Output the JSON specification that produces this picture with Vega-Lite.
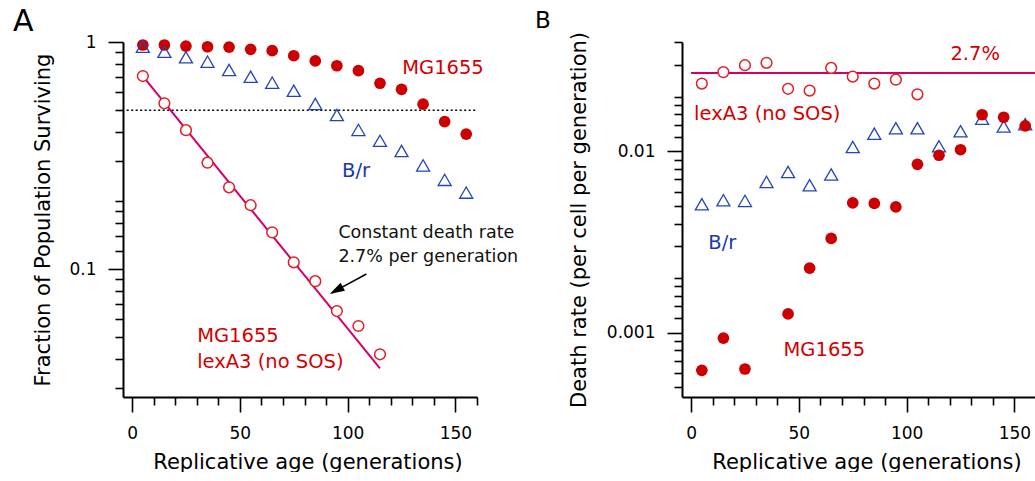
{
  "$schema": "https://vega.github.io/schema/vega-lite/v6.json",
  "padding": {"left": 13, "top": 7, "right": 0, "bottom": 0},
  "bounds": "flush",
  "spacing": 205,
  "config": {
    "view": {"stroke": null},
    "font": "DejaVu Sans",
    "axis": {"domainColor": "#000", "domainWidth": 2, "tickColor": "#000", "tickWidth": 1.6, "labelColor": "#000", "titleColor": "#000", "labelFontSize": 17, "titleFontSize": 21, "titleFontWeight": "normal", "grid": false, "labelFlush": false, "labelOverlap": false, "labelBound": false},
    "title": {"fontWeight": "normal", "color": "#000", "anchor": "start", "frame": "group"}
  },
  "datasets": {
    "ptsA": [
      {"gen": 5, "strain": "MG1655", "val": 0.970}, {"gen": 15, "strain": "MG1655", "val": 0.970}, {"gen": 25, "strain": "MG1655", "val": 0.960}, {"gen": 35, "strain": "MG1655", "val": 0.953},
      {"gen": 45, "strain": "MG1655", "val": 0.950}, {"gen": 55, "strain": "MG1655", "val": 0.928}, {"gen": 65, "strain": "MG1655", "val": 0.916}, {"gen": 75, "strain": "MG1655", "val": 0.870},
      {"gen": 85, "strain": "MG1655", "val": 0.825}, {"gen": 95, "strain": "MG1655", "val": 0.786}, {"gen": 105, "strain": "MG1655", "val": 0.748}, {"gen": 115, "strain": "MG1655", "val": 0.658},
      {"gen": 125, "strain": "MG1655", "val": 0.619}, {"gen": 135, "strain": "MG1655", "val": 0.532}, {"gen": 145, "strain": "MG1655", "val": 0.446}, {"gen": 155, "strain": "MG1655", "val": 0.393},
      {"gen": 5, "strain": "B/r", "val": 0.953}, {"gen": 15, "strain": "B/r", "val": 0.906}, {"gen": 25, "strain": "B/r", "val": 0.856}, {"gen": 35, "strain": "B/r", "val": 0.819},
      {"gen": 45, "strain": "B/r", "val": 0.753}, {"gen": 55, "strain": "B/r", "val": 0.703}, {"gen": 65, "strain": "B/r", "val": 0.662}, {"gen": 75, "strain": "B/r", "val": 0.610},
      {"gen": 85, "strain": "B/r", "val": 0.533}, {"gen": 95, "strain": "B/r", "val": 0.477}, {"gen": 105, "strain": "B/r", "val": 0.410}, {"gen": 115, "strain": "B/r", "val": 0.367},
      {"gen": 125, "strain": "B/r", "val": 0.331}, {"gen": 135, "strain": "B/r", "val": 0.286}, {"gen": 145, "strain": "B/r", "val": 0.247}, {"gen": 155, "strain": "B/r", "val": 0.217},
      {"gen": 5, "strain": "lexA3", "val": 0.708}, {"gen": 15, "strain": "lexA3", "val": 0.537}, {"gen": 25, "strain": "lexA3", "val": 0.409}, {"gen": 35, "strain": "lexA3", "val": 0.294},
      {"gen": 45, "strain": "lexA3", "val": 0.229}, {"gen": 55, "strain": "lexA3", "val": 0.191}, {"gen": 65, "strain": "lexA3", "val": 0.145}, {"gen": 75, "strain": "lexA3", "val": 0.107},
      {"gen": 85, "strain": "lexA3", "val": 0.0884}, {"gen": 95, "strain": "lexA3", "val": 0.0653}, {"gen": 105, "strain": "lexA3", "val": 0.0561}, {"gen": 115, "strain": "lexA3", "val": 0.0421}
    ],
    "ptsB": [
      {"gen": 5, "strain": "lexA3", "val": 0.0236}, {"gen": 15, "strain": "lexA3", "val": 0.0273}, {"gen": 25, "strain": "lexA3", "val": 0.0298}, {"gen": 35, "strain": "lexA3", "val": 0.0307},
      {"gen": 45, "strain": "lexA3", "val": 0.0221}, {"gen": 55, "strain": "lexA3", "val": 0.0216}, {"gen": 65, "strain": "lexA3", "val": 0.0288}, {"gen": 75, "strain": "lexA3", "val": 0.0258},
      {"gen": 85, "strain": "lexA3", "val": 0.0236}, {"gen": 95, "strain": "lexA3", "val": 0.0248}, {"gen": 105, "strain": "lexA3", "val": 0.0206},
      {"gen": 5, "strain": "B/r", "val": 0.00511}, {"gen": 15, "strain": "B/r", "val": 0.00538}, {"gen": 25, "strain": "B/r", "val": 0.00533}, {"gen": 35, "strain": "B/r", "val": 0.00678},
      {"gen": 45, "strain": "B/r", "val": 0.00769}, {"gen": 55, "strain": "B/r", "val": 0.00650}, {"gen": 65, "strain": "B/r", "val": 0.00745}, {"gen": 75, "strain": "B/r", "val": 0.01056},
      {"gen": 85, "strain": "B/r", "val": 0.0125}, {"gen": 95, "strain": "B/r", "val": 0.0134}, {"gen": 105, "strain": "B/r", "val": 0.0134}, {"gen": 115, "strain": "B/r", "val": 0.01065},
      {"gen": 125, "strain": "B/r", "val": 0.0129}, {"gen": 135, "strain": "B/r", "val": 0.0151}, {"gen": 145, "strain": "B/r", "val": 0.0137}, {"gen": 155, "strain": "B/r", "val": 0.0141},
      {"gen": 5, "strain": "MG1655", "val": 0.000621}, {"gen": 15, "strain": "MG1655", "val": 0.000935}, {"gen": 25, "strain": "MG1655", "val": 0.000632},
      {"gen": 45, "strain": "MG1655", "val": 0.00127}, {"gen": 55, "strain": "MG1655", "val": 0.00227}, {"gen": 65, "strain": "MG1655", "val": 0.00331}, {"gen": 75, "strain": "MG1655", "val": 0.0052},
      {"gen": 85, "strain": "MG1655", "val": 0.00516}, {"gen": 95, "strain": "MG1655", "val": 0.00494}, {"gen": 105, "strain": "MG1655", "val": 0.00848}, {"gen": 115, "strain": "MG1655", "val": 0.00951},
      {"gen": 125, "strain": "MG1655", "val": 0.0102}, {"gen": 135, "strain": "MG1655", "val": 0.0159}, {"gen": 145, "strain": "MG1655", "val": 0.0154}, {"gen": 155, "strain": "MG1655", "val": 0.0138}
    ]
  },
  "hconcat": [
    {
      "width": 354,
      "height": 355,
      "title": {"text": "A", "fontSize": 30, "dx": -110, "offset": -28, "baseline": "alphabetic"},
      "encoding": {
        "x": {"field": "gen", "type": "quantitative",
          "scale": {"domain": [-4.2, 160], "nice": false, "zero": false},
          "axis": {"title": "Replicative age (generations)", "values": [0, 10, 20, 30, 40, 50, 60, 70, 80, 90, 100, 110, 120, 130, 140, 150, 160],
            "format": "d", "labelExpr": "datum.value % 50 === 0 ? datum.label : ''",
            "tickSize": {"condition": {"test": "datum.value % 50 === 0", "value": 15}, "value": 8},
            "labelPadding": 13, "titlePadding": 10, "titleX": 184.5}},
        "y": {"field": "val", "type": "quantitative",
          "scale": {"type": "log", "domain": [0.0273, 1], "nice": false},
          "axis": {"title": "Fraction of Population Surviving", "values": [0.03, 0.04, 0.05, 0.06, 0.07, 0.08, 0.09, 0.1, 0.12, 0.14, 0.16, 0.18, 0.2, 0.3, 0.4, 0.5, 0.6, 0.7, 0.8, 0.9, 1],
            "format": "~g", "labelExpr": "datum.value === 1 || datum.value === 0.1 ? datum.label : ''",
            "tickSize": {"condition": {"test": "datum.value === 1 || datum.value === 0.1", "value": 15}, "value": 8},
            "labelPadding": 12, "titlePadding": 15}}
      },
      "layer": [
        {"data": {"values": [{"gen": -2.5, "gen2": 160, "val": 0.5}]},
         "mark": {"type": "rule", "color": "#000", "strokeWidth": 1.5, "strokeDash": [2, 2.5]},
         "encoding": {"x2": {"field": "gen2"}}},
        {"data": {"values": [{"gen": 5, "val": 0.708}, {"gen": 115, "val": 0.0365}]},
         "mark": {"type": "line", "color": "#d4006a", "strokeWidth": 2},
         "encoding": {}},
        {"data": {"name": "ptsA"}, "transform": [{"filter": "datum.strain === 'MG1655'"}],
         "mark": {"type": "point", "shape": "circle", "filled": true, "color": "#cc0000", "size": 137, "opacity": 1}},
        {"data": {"name": "ptsA"}, "transform": [{"filter": "datum.strain === 'B/r'"}],
         "mark": {"type": "point", "shape": "triangle-up", "filled": false, "color": "#2244bb", "size": 170, "strokeWidth": 1.3, "opacity": 1}},
        {"data": {"name": "ptsA"}, "transform": [{"filter": "datum.strain === 'lexA3'"}],
         "mark": {"type": "point", "shape": "circle", "filled": true, "fill": "#ffffff", "stroke": "#e31e24", "strokeWidth": 1.5, "size": 115, "opacity": 1}},
        {"data": {"values": [{"gen": 125.3, "val": 0.723, "label": "MG1655"}, {"gen": 30.2, "val": 0.0478, "label": "MG1655"}, {"gen": 30.2, "val": 0.0365, "label": "lexA3 (no SOS)"}]},
         "mark": {"type": "text", "align": "left", "baseline": "alphabetic", "fontSize": 19.5, "color": "#d40000"},
         "encoding": {"text": {"field": "label"}}},
        {"data": {"values": [{"gen": 97.4, "val": 0.255, "label": "B/r"}]},
         "mark": {"type": "text", "align": "left", "baseline": "alphabetic", "fontSize": 19.5, "color": "#1a3aa8"},
         "encoding": {"text": {"field": "label"}}},
        {"data": {"values": [{"gen": 95.7, "val": 0.1365, "label": "Constant death rate"}, {"gen": 95.7, "val": 0.1077, "label": "2.7% per generation"}]},
         "mark": {"type": "text", "align": "left", "baseline": "alphabetic", "fontSize": 17.5, "color": "#111111"},
         "encoding": {"text": {"field": "label"}}},
        {"data": {"values": [{"gen": 108.7, "val": 0.095, "gen2": 94.7, "val2": 0.0805}]},
         "mark": {"type": "rule", "color": "#000", "strokeWidth": 1.6},
         "encoding": {"x2": {"field": "gen2"}, "y2": {"field": "val2"}}},
        {"data": {"values": [{"gen": 94.7, "val": 0.0805}]},
         "mark": {"type": "point", "shape": "M0,-1L0.6,1L-0.6,1Z", "filled": true, "color": "#000", "size": 225, "angle": 241, "opacity": 1}}
      ]
    },
    {
      "width": 354,
      "height": 355,
      "title": {"text": "B", "fontSize": 23, "dx": -147, "offset": -20, "baseline": "alphabetic"},
      "encoding": {
        "x": {"field": "gen", "type": "quantitative",
          "scale": {"domain": [-4.2, 160], "nice": false, "zero": false},
          "axis": {"title": "Replicative age (generations)", "values": [0, 10, 20, 30, 40, 50, 60, 70, 80, 90, 100, 110, 120, 130, 140, 150, 160],
            "format": "d", "labelExpr": "datum.value % 50 === 0 ? datum.label : ''",
            "tickSize": {"condition": {"test": "datum.value % 50 === 0", "value": 15}, "value": 8},
            "labelPadding": 13, "titlePadding": 10, "titleX": 184.5}},
        "y": {"field": "val", "type": "quantitative",
          "scale": {"type": "log", "domain": [0.000443, 0.04], "nice": false},
          "axis": {"title": "Death rate (per cell per generation)", "values": [0.0005, 0.0006, 0.0007, 0.0008, 0.0009, 0.001, 0.0012, 0.0014, 0.0016, 0.0018, 0.002, 0.003, 0.004, 0.005, 0.006, 0.007, 0.008, 0.009, 0.01, 0.012, 0.014, 0.016, 0.018, 0.02, 0.03, 0.04],
            "format": "~g", "labelExpr": "datum.value === 0.01 || datum.value === 0.001 ? datum.label : ''",
            "tickSize": {"condition": {"test": "datum.value === 0.01 || datum.value === 0.001", "value": 15}, "value": 8},
            "labelPadding": 12, "titlePadding": 17}}
      },
      "layer": [
        {"data": {"values": [{"gen": 0, "gen2": 160, "val": 0.027}]},
         "mark": {"type": "rule", "color": "#d4006a", "strokeWidth": 2},
         "encoding": {"x2": {"field": "gen2"}}},
        {"data": {"name": "ptsB"}, "transform": [{"filter": "datum.strain === 'lexA3'"}],
         "mark": {"type": "point", "shape": "circle", "filled": true, "fill": "#ffffff", "stroke": "#e31e24", "strokeWidth": 1.5, "size": 115, "opacity": 1}},
        {"data": {"name": "ptsB"}, "transform": [{"filter": "datum.strain === 'B/r'"}],
         "mark": {"type": "point", "shape": "triangle-up", "filled": false, "color": "#2244bb", "size": 170, "strokeWidth": 1.3, "opacity": 1}},
        {"data": {"name": "ptsB"}, "transform": [{"filter": "datum.strain === 'MG1655'"}],
         "mark": {"type": "point", "shape": "circle", "filled": true, "color": "#cc0000", "size": 137, "opacity": 1}},
        {"data": {"values": [{"gen": 120.3, "val": 0.0317, "label": "2.7%"}, {"gen": 1.4, "val": 0.01483, "label": "lexA3 (no SOS)"}, {"gen": 42.9, "val": 0.000742, "label": "MG1655"}]},
         "mark": {"type": "text", "align": "left", "baseline": "alphabetic", "fontSize": 19.5, "color": "#d40000"},
         "encoding": {"text": {"field": "label"}}},
        {"data": {"values": [{"gen": 8.0, "val": 0.00291, "label": "B/r"}]},
         "mark": {"type": "text", "align": "left", "baseline": "alphabetic", "fontSize": 19.5, "color": "#1a3aa8"},
         "encoding": {"text": {"field": "label"}}}
      ]
    }
  ]
}
